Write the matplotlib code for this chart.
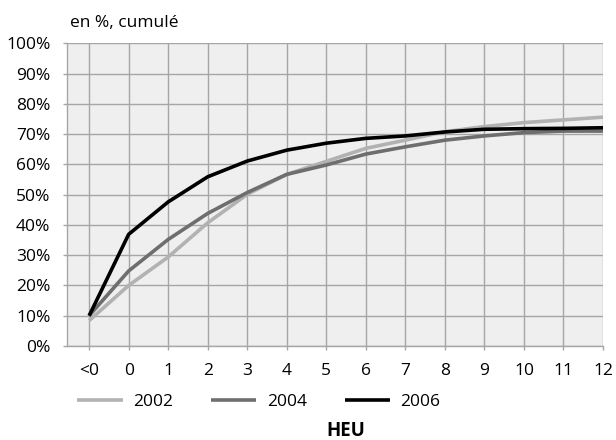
import matplotlib
matplotlib.use("Agg")
import matplotlib.pyplot as plt
from matplotlib.ticker import FuncFormatter

plt.rcParams['font.family'] = ['Open Sans', 'DejaVu Sans']

categories = ["<0", "0", "1", "2", "3", "4", "5", "6", "7", "8", "9", "10", "11", "12"]
s2002 = [8.4, 20.0, 29.4, 40.7, 50.1, 56.7, 61.0, 65.3, 68.0, 70.8, 72.5, 73.8, 74.7, 75.6]
s2004 = [10.0, 24.8, 35.2, 43.8, 50.7, 56.7, 59.8, 63.4, 65.8, 68.0, 69.4, 70.5, 71.0, 71.0]
s2006 = [10.0, 36.9, 47.6, 55.9, 61.1, 64.7, 67.0, 68.6, 69.4, 70.7, 71.6, 71.8, 71.9, 72.1]
years = ["2002", "2004", "2006"]
colors = ["#b2b2b2", "#6e6e6e", "#000000"]

fig = plt.figure(figsize=(6.16, 4.40), dpi=100)
W, H = 616, 440
ax = fig.add_axes([67 / W, 1 - 346 / H, (603 - 67) / W, (346 - 43.3) / H])
ax.set_facecolor("#efefef")

x = list(range(len(categories)))
for vals, c, lab in zip([s2002, s2004, s2006], colors, years):
    ax.plot(x, vals, color=c, lw=2.6, label=lab, solid_capstyle='butt', zorder=3)

ax.set_xlim(-0.56, len(categories) - 1)
ax.set_ylim(0, 100)
ax.set_yticks(range(0, 101, 10))
ax.yaxis.set_major_formatter(FuncFormatter(lambda v, p: f"{int(v)}%"))
ax.set_xticks(x)
ax.set_xticklabels(categories)
ax.grid(True, color="#a6a6a6", lw=1.0, zorder=1)
ax.set_axisbelow(True)
for side in ["left", "bottom"]:
    ax.spines[side].set_color("#a6a6a6")
    ax.spines[side].set_linewidth(1.0)
for side in ["top", "right"]:
    ax.spines[side].set_visible(False)
ax.tick_params(axis='both', colors="#a6a6a6", labelcolor="#000000", labelsize=12.5, length=3, width=1)
ax.tick_params(axis='x', pad=9)
ax.tick_params(axis='y', pad=9)

fig.text(70 / W, 1 - 23 / H, "en %, cumulé", fontsize=12.5, ha='left', va='center')
fig.text(346 / W, 1 - 431 / H, "HEU", fontsize=13.5, fontweight='bold', ha='center', va='center')

fig.legend(loc='center', bbox_to_anchor=(259 / W, 1 - 402 / H), ncol=3, frameon=False,
           fontsize=12.5, handlelength=2.6, handletextpad=0.6, columnspacing=2.2,
           borderaxespad=0, borderpad=0)

fig.savefig("out.png", dpi=100)
